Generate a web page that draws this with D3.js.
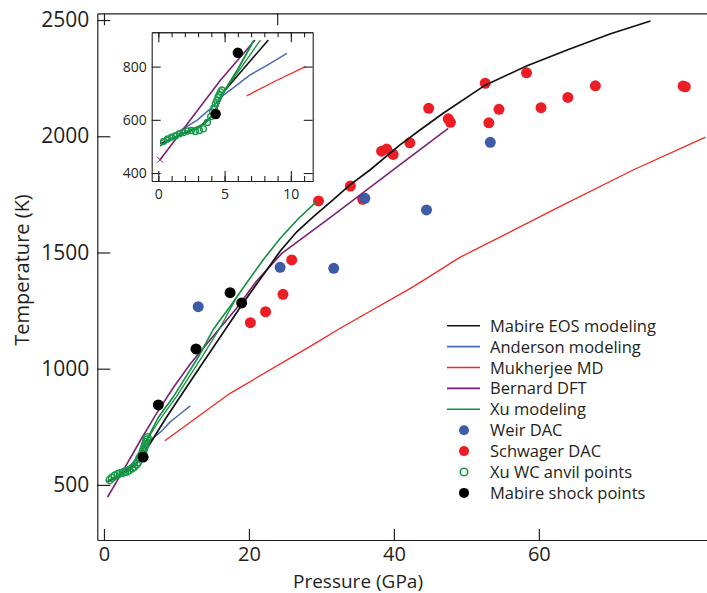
<!DOCTYPE html>
<html><head><meta charset="utf-8">
<script src="https://cdn.jsdelivr.net/npm/d3@7"></script>
<style>
body{margin:0;background:#fff}
svg{display:block}
text{font-family:"Open Sans",sans-serif;fill:#231f20}
</style>
</head><body><svg id="c" width="707" height="593"></svg>
<script>
// ---------------- DATA (main panel) ----------------
const xTicks = [0, 20, 40, 60];
const yTicks = [500, 1000, 1500, 2000, 2500];
const topTicks = [0, 23.9];

const mabireEosP = [0.5, 2, 3.5, 4.5, 5.66, 8.6, 13.2, 19.2, 24.3, 26.6, 28.9, 31.6, 33.9, 36.7, 40.8, 43.6, 46.8, 52.6, 58.3, 63.9, 69.8, 75.4];
const mabireEosT = [512, 540, 570, 593, 643, 790, 1005, 1283, 1505, 1589, 1654, 1726, 1790, 1855, 1962, 2027, 2099, 2220, 2302, 2371, 2440, 2496];

const andersonP = [0.5, 2, 3.5, 5, 6.3, 7.9, 9.1, 10.5, 11.9];
const andersonT = [515, 543, 575, 640, 690, 730, 770, 805, 840];

const mukherjeeP = [8.4, 17.4, 28.4, 32.6, 42.7, 49.1, 62, 73, 83];
const mukherjeeT = [690, 894, 1095, 1174, 1353, 1479, 1683, 1855, 1996];

const bernardP = [0.5, 2.7, 5, 7.3, 9.6, 11.9, 14, 16, 18.3, 21, 24.5, 31.2, 39.9, 47.5];
const bernardT = [448, 565, 690, 810, 920, 1020, 1100, 1175, 1260, 1375, 1495, 1650, 1855, 2034];

const xuModelP = [0.5, 1.5, 2.5, 3.5, 4.5, 5.2, 5.9, 7.5, 9.6, 13.2, 15.1, 17.8, 19.7, 22, 24.3, 26.8, 29.3];
const xuModelT = [515, 535, 548, 562, 590, 640, 694, 790, 880, 1060, 1170, 1285, 1370, 1470, 1560, 1645, 1718];
const xuModel2P = [5.9, 7.8, 10, 13.5, 16, 18.1];
const xuModel2T = [694, 785, 880, 1050, 1175, 1296];

const weirP = [13.0, 24.3, 31.7, 36.0, 44.5, 53.3];
const weirT = [1267, 1436, 1432, 1733, 1683, 1974];

const schwagerP = [20.2, 22.3, 24.7, 25.9, 29.6, 34.0, 35.7, 38.3, 39.0, 39.9, 42.2, 44.8, 47.5, 47.8, 52.6, 53.1, 54.5, 58.3, 60.3, 64.0, 67.8, 79.9, 80.2];
const schwagerT = [1198, 1245, 1320, 1468, 1722, 1786, 1729, 1936, 1945, 1922, 1972, 2120, 2075, 2060, 2228, 2058, 2116, 2273, 2123, 2167, 2217, 2216, 2213];

const xuAnvilP = [0.8, 1.1, 1.5, 1.9, 2.2, 2.6, 2.9, 3.2, 3.5, 3.9, 4.2, 4.5, 4.7, 4.9, 5.1, 5.3, 5.4, 5.5, 5.6, 5.7, 5.8, 5.9, 6.0];
const xuAnvilT = [521, 530, 540, 546, 550, 553, 557, 558, 564, 572, 579, 588, 597, 615, 625, 635, 645, 655, 665, 675, 685, 695, 705];

const shockP = [5.4, 7.5, 12.7, 17.4, 19.0];
const shockT = [620, 844, 1085, 1327, 1283];

// ---------------- DATA (inset) ----------------
const insetXTicks = [0, 5, 10];
const insetXMinor = [0,1,2,3,4,5,6,7,8,9,10,11];
const insetYTicks = [400, 600, 800];

const inMabireP = [0.13, 1.5, 3.0, 4.2, 4.94, 6.9, 8.3];
const inMabireT = [510, 540, 570, 620, 706, 819, 900];
const inAndersonP = [0.13, 1.5, 2.96, 4.0, 4.94, 5.8, 6.9, 8.2, 9.7];
const inAndersonT = [519, 555, 600, 645, 694, 726, 768, 805, 850];
const inMukherjeeP = [6.67, 8.8, 11.1];
const inMukherjeeT = [690, 745, 800];
const inBernardP = [0.13, 4.7, 7.3];
const inBernardT = [450, 750, 900];
const inXuP = [0.13, 1.0, 2.3, 3.5, 4.2, 4.94, 6.0, 7.2];
const inXuT = [502, 530, 560, 585, 625, 706, 790, 898];
const inXu2P = [4.94, 6.3, 7.7];
const inXu2T = [706, 800, 900];
const inAnvilP = [0.4, 0.7, 1.0, 1.3, 1.6, 1.9, 2.2, 2.5, 2.8, 3.1, 3.4, 3.7, 3.95, 4.1, 4.2, 4.3, 4.4, 4.5, 4.6, 4.7, 4.8];
const inAnvilT = [519, 528, 535, 540, 548, 552, 558, 560, 556, 560, 566, 590, 612, 630, 645, 660, 672, 685, 695, 705, 712];
const inShockP = [4.33, 6.0];
const inShockT = [622, 852];

const legendNames = ["Mabire EOS modeling","Anderson modeling","Mukherjee MD","Bernard DFT","Xu modeling","Weir DAC","Schwager DAC","Xu WC anvil points","Mabire shock points"];

// ---------------- STYLE ----------------
const C = {black:"#111111", blue:"#4a6cb8", red:"#ee2a24", purple:"#7c2275", green:"#12903f",
           weir:"#3e5ba7", schw:"#ec1d25", anvil:"#169a48", shock:"#000000", axis:"#231f20"};

const svg = d3.select("#c");
const x = d3.scaleLinear().domain([-0.92, 83.2]).range([97.3, 707]);
const y = d3.scaleLinear().domain([263, 2529]).range([540, 13.3]);
const line = (sx, sy) => d3.line().x(d => sx(d[0])).y(d => sy(d[1]));
const pts = (P, T) => d3.zip(P, T);
const fmt = d3.format("d");

// main axes
const gB = svg.append("g").attr("transform","translate(0,540)")
  .call(d3.axisBottom(x).tickValues(xTicks).tickFormat(fmt).tickSizeInner(-11).tickSizeOuter(0).tickPadding(7));
const gL = svg.append("g").attr("transform","translate(97.3,0)")
  .call(d3.axisLeft(y).tickValues(yTicks).tickFormat(fmt).tickSizeInner(-13).tickSizeOuter(0).tickPadding(8));
const gT = svg.append("g").attr("transform","translate(0,13.3)")
  .call(d3.axisTop(x).tickValues(topTicks).tickSizeInner(-12).tickSizeOuter(0).tickFormat(""));
[gB,gL,gT].forEach(g => {
  g.selectAll("path,line").attr("stroke", C.axis).attr("stroke-width", 1.2);
  g.selectAll("text").attr("fill", C.axis).style("font-family","Open Sans");
});
gB.selectAll("text").style("font-size","20px");
gL.selectAll("text").style("font-size","21px");

svg.append("text").attr("x",358).attr("y",588).attr("text-anchor","middle")
  .style("font-size","19px").text("Pressure (GPa)");
svg.append("text").attr("transform","translate(29,270) rotate(-90)").attr("text-anchor","middle")
  .style("font-size","20px").text("Temperature (K)");

// main dots (under lines)
const main = svg.append("g");
main.selectAll(".s").data(pts(schwagerP, schwagerT)).join("circle")
  .attr("cx", d=>x(d[0])).attr("cy", d=>y(d[1])).attr("r",5.5).attr("fill",C.schw);
main.selectAll(".w").data(pts(weirP, weirT)).join("circle")
  .attr("cx", d=>x(d[0])).attr("cy", d=>y(d[1])).attr("r",5.5).attr("fill",C.weir);

// main lines
const lm = line(x,y);
main.append("path").attr("d", lm(pts(mukherjeeP,mukherjeeT))).attr("fill","none").attr("stroke",C.red).attr("stroke-width",1.3);
main.append("path").attr("d", lm(pts(andersonP,andersonT))).attr("fill","none").attr("stroke",C.blue).attr("stroke-width",1.5);
main.append("path").attr("d", lm(pts(bernardP,bernardT))).attr("fill","none").attr("stroke",C.purple).attr("stroke-width",1.6);
main.append("path").attr("d", lm(pts(mabireEosP,mabireEosT))).attr("fill","none").attr("stroke",C.black).attr("stroke-width",1.7);
main.append("path").attr("d", lm(pts(xuModelP,xuModelT))).attr("fill","none").attr("stroke",C.green).attr("stroke-width",1.6);
main.append("path").attr("d", lm(pts(xuModel2P,xuModel2T))).attr("fill","none").attr("stroke",C.green).attr("stroke-width",1.3);

main.selectAll(".a").data(pts(xuAnvilP, xuAnvilT)).join("circle")
  .attr("cx", d=>x(d[0])).attr("cy", d=>y(d[1])).attr("r",3.6).attr("fill","none")
  .attr("stroke",C.anvil).attr("stroke-width",1.5);
main.selectAll(".k").data(pts(shockP, shockT)).join("circle")
  .attr("cx", d=>x(d[0])).attr("cy", d=>y(d[1])).attr("r",5.5).attr("fill",C.shock);

// legend
const lg = svg.append("g");
const lineColors = [C.black, C.blue, C.red, C.purple, C.green];
legendNames.forEach((name,i) => {
  const cy = 325.7 + i*20.9;
  if (i < 5) {
    lg.append("line").attr("x1",447).attr("x2",480).attr("y1",cy).attr("y2",cy)
      .attr("stroke",lineColors[i]).attr("stroke-width",1.6);
  } else if (i === 7) {
    lg.append("circle").attr("cx",464).attr("cy",cy).attr("r",3.8).attr("fill","none")
      .attr("stroke",C.anvil).attr("stroke-width",1.6);
  } else {
    const col = i===5 ? C.weir : i===6 ? C.schw : C.shock;
    lg.append("circle").attr("cx",464).attr("cy",cy).attr("r",5).attr("fill",col);
  }
  lg.append("text").attr("x",490).attr("y",cy+6).style("font-size","16.5px").text(name);
});

// ---------------- INSET ----------------
const xi = d3.scaleLinear().domain([-0.5, 11.65]).range([151.7, 312.7]);
const yi = d3.scaleLinear().domain([370, 929]).range([181, 32.3]);
const ins = svg.append("g");
ins.append("rect").attr("x",151.7).attr("y",32.3).attr("width",161).attr("height",148.7)
  .attr("fill","#fff");
svg.append("clipPath").attr("id","ic").append("rect").attr("x",151.7).attr("y",32.3).attr("width",161).attr("height",148.7);
const ip = ins.append("g").attr("clip-path","url(#ic)");
const li = line(xi, yi);
ip.append("path").attr("d", li(pts(inMukherjeeP,inMukherjeeT))).attr("fill","none").attr("stroke",C.red).attr("stroke-width",1.3);
ip.append("path").attr("d", li(pts(inAndersonP,inAndersonT))).attr("fill","none").attr("stroke",C.blue).attr("stroke-width",1.5);
ip.append("path").attr("d", li(pts(inBernardP,inBernardT))).attr("fill","none").attr("stroke",C.purple).attr("stroke-width",1.6);
ip.append("path").attr("d", li(pts(inMabireP,inMabireT))).attr("fill","none").attr("stroke",C.black).attr("stroke-width",1.6);
ip.append("path").attr("d", li(pts(inXuP,inXuT))).attr("fill","none").attr("stroke",C.green).attr("stroke-width",1.8);
ip.append("path").attr("d", li(pts(inXu2P,inXu2T))).attr("fill","none").attr("stroke",C.green).attr("stroke-width",1.3);
ip.selectAll(".ia").data(pts(inAnvilP,inAnvilT)).join("circle")
  .attr("cx", d=>xi(d[0])).attr("cy", d=>yi(d[1])).attr("r",3).attr("fill","none")
  .attr("stroke",C.anvil).attr("stroke-width",1.4);
ip.selectAll(".ik").data(pts(inShockP,inShockT)).join("circle")
  .attr("cx", d=>xi(d[0])).attr("cy", d=>yi(d[1])).attr("r",5.2).attr("fill",C.shock);
// x marker at Bernard start
const bx = xi(inBernardP[0]), by = yi(inBernardT[0]);
ip.append("path").attr("d",`M${bx-3},${by-3}L${bx+3},${by+3}M${bx-3},${by+3}L${bx+3},${by-3}`)
  .attr("stroke",C.purple).attr("stroke-width",1);

// inset axes
const iax = [];
iax.push(ins.append("g").attr("transform","translate(0,181)")
  .call(d3.axisBottom(xi).tickValues(insetXMinor).tickSizeInner(-5).tickSizeOuter(0).tickFormat("")));
iax.push(ins.append("g").attr("transform","translate(0,181)")
  .call(d3.axisBottom(xi).tickValues(insetXTicks).tickSizeInner(-10).tickSizeOuter(0).tickPadding(8)));
iax.push(ins.append("g").attr("transform","translate(0,32.3)")
  .call(d3.axisTop(xi).tickValues(insetXMinor).tickSizeInner(-5).tickSizeOuter(0).tickFormat("")));
iax.push(ins.append("g").attr("transform","translate(0,32.3)")
  .call(d3.axisTop(xi).tickValues(insetXTicks).tickSizeInner(-10).tickSizeOuter(0).tickFormat("")));
iax.push(ins.append("g").attr("transform","translate(151.7,0)")
  .call(d3.axisLeft(yi).tickValues(insetYTicks).tickSizeInner(-9).tickSizeOuter(0).tickPadding(5)));
iax.push(ins.append("g").attr("transform","translate(312.7,0)")
  .call(d3.axisRight(yi).tickValues(insetYTicks).tickSizeInner(-9).tickSizeOuter(0).tickFormat("")));
iax.forEach(g => {
  g.selectAll("path,line").attr("stroke", C.axis).attr("stroke-width", 1.1);
  g.selectAll("text").attr("fill", C.axis).style("font-family","Open Sans").style("font-size","14px");
});
</script>
</body></html>
